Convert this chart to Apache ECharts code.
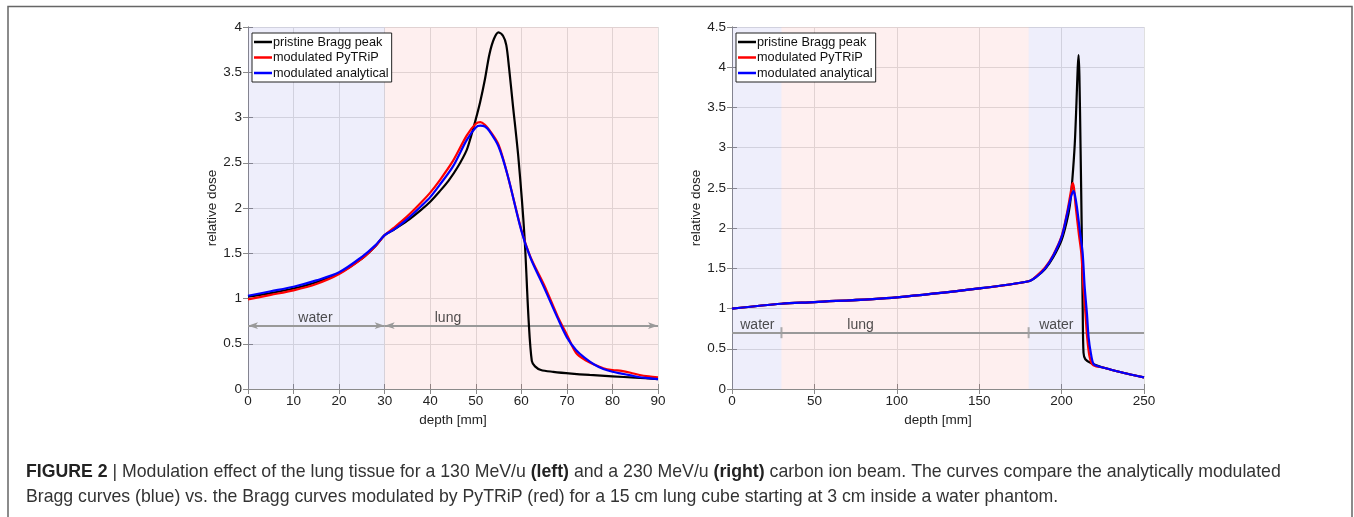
<!DOCTYPE html>
<html>
<head>
<meta charset="utf-8">
<script src="https://cdn.jsdelivr.net/npm/echarts@6/dist/echarts.min.js"></script>
<style>
  html, body { margin: 0; padding: 0; background: #fff; }
  #chart { width: 1354px; height: 517px; }
</style>
</head>
<body>
<div id="chart"></div>
<script>
// ---- data ----
const seriesNames = ["pristine Bragg peak", "modulated PyTRiP", "modulated analytical"];
const seriesColors = ["#000000", "#ff0000", "#0000ff"];

// left panel: 130 MeV/u
const leftPristineX = [0, 5, 10, 15, 20, 25, 28, 30, 32, 35, 38, 40, 42, 44, 46, 48, 49, 50, 51, 52, 53, 54, 55, 56, 56.7, 57.3, 58.1, 59.4, 60.7, 61.6, 62.3, 63, 64.3, 67, 71, 75, 80, 85, 90];
const leftPristineY = [1.02, 1.06, 1.11, 1.18, 1.28, 1.44, 1.58, 1.70, 1.76, 1.86, 1.98, 2.07, 2.18, 2.30, 2.45, 2.64, 2.80, 2.98, 3.18, 3.42, 3.70, 3.87, 3.94, 3.90, 3.80, 3.55, 3.16, 2.53, 1.68, 0.76, 0.31, 0.25, 0.21, 0.19, 0.17, 0.155, 0.14, 0.125, 0.11];
const leftPytripX = [0, 5, 10, 15, 20, 25, 28, 30, 32, 35, 38, 40, 42, 45, 48, 50, 51, 52, 53, 55, 57, 60, 62, 65, 68, 70, 72, 74, 76, 78, 80, 82, 84, 86, 88, 90];
const leftPytripY = [0.99, 1.04, 1.09, 1.16, 1.27, 1.44, 1.58, 1.70, 1.78, 1.91, 2.06, 2.17, 2.30, 2.52, 2.80, 2.93, 2.95, 2.92, 2.86, 2.70, 2.36, 1.76, 1.46, 1.15, 0.80, 0.60, 0.40, 0.32, 0.27, 0.23, 0.21, 0.20, 0.18, 0.155, 0.14, 0.13];
const leftAnalyticX = [0, 5, 10, 15, 20, 25, 28, 30, 32, 35, 38, 40, 42, 45, 48, 50, 51, 52, 53, 55, 57, 60, 62, 65, 68, 70, 72, 74, 76, 78, 80, 82, 84, 86, 88, 90];
const leftAnalyticY = [1.03, 1.08, 1.13, 1.20, 1.29, 1.46, 1.59, 1.70, 1.76, 1.88, 2.02, 2.12, 2.25, 2.46, 2.75, 2.89, 2.91, 2.90, 2.85, 2.68, 2.36, 1.75, 1.45, 1.12, 0.78, 0.57, 0.43, 0.34, 0.27, 0.22, 0.19, 0.17, 0.15, 0.13, 0.12, 0.11];

// right panel: 230 MeV/u
const rightPristineX = [0, 30, 50, 100, 150, 180, 185, 190, 195, 200, 203, 205, 206.5, 208, 209, 209.8, 210.3, 210.8, 211.5, 212.2, 212.8, 213.3, 214.4, 218, 224.5, 230, 240, 250];
const rightPristineY = [1.00, 1.06, 1.08, 1.14, 1.25, 1.34, 1.40, 1.49, 1.64, 1.85, 2.07, 2.28, 2.60, 3.05, 3.55, 4.00, 4.15, 3.90, 3.00, 2.00, 1.00, 0.45, 0.37, 0.32, 0.27, 0.24, 0.19, 0.145];
const rightPytripX = [0, 30, 50, 100, 150, 180, 185, 190, 195, 200, 203, 205, 206, 206.7, 207.5, 208.5, 210.5, 212, 213.2, 214.5, 215.5, 216.8, 218.5, 221, 224.5, 230, 240, 250];
const rightPytripY = [1.00, 1.06, 1.08, 1.14, 1.25, 1.34, 1.41, 1.51, 1.67, 1.90, 2.16, 2.38, 2.50, 2.56, 2.50, 2.28, 1.92, 1.68, 1.27, 0.93, 0.64, 0.42, 0.31, 0.28, 0.27, 0.24, 0.19, 0.145];
const rightAnalyticX = [0, 30, 50, 100, 150, 180, 185, 190, 195, 200, 203, 205, 206, 207.3, 208.2, 209.3, 211.3, 212.8, 214, 215.4, 216.4, 217.8, 219.4, 222.5, 224.5, 230, 240, 250];
const rightAnalyticY = [1.00, 1.06, 1.08, 1.14, 1.25, 1.34, 1.40, 1.50, 1.66, 1.89, 2.14, 2.33, 2.41, 2.46, 2.40, 2.26, 1.93, 1.68, 1.27, 0.93, 0.64, 0.44, 0.31, 0.28, 0.27, 0.24, 0.19, 0.145];

// tissue regions [from, to, kind] and annotation labels [depth, text]
const leftRegions = [[0, 30, "water"], [30, 90, "lung"]];
const rightRegions = [[0, 30, "water"], [30, 180, "lung"], [180, 250, "water"]];
const leftLabels = [[14.8, "water"], [43.9, "lung"]];
const rightLabels = [[15.4, "water"], [78, "lung"], [196.8, "water"]];
const annotY = 0.7;

// axes
const leftXMax = 90, leftXStep = 10, leftYMax = 4;
const rightXMax = 250, rightXStep = 50, rightYMax = 4.5;

const regionColor = { water: "rgba(70,70,215,0.09)", lung: "rgba(235,40,40,0.075)" };
const font = "'Liberation Sans', Arial, sans-serif";
const gray = "#8a8a8a";

function pairs(xs, ys) { return xs.map((x, i) => [x, ys[i]]); }

function axesFor(grid, xMax, xStep, yMax) {
  const tick = { show: true, inside: true, length: 5, lineStyle: { color: gray } };
  const line = { show: true, lineStyle: { color: gray, width: 1 } };
  const lab = { color: "#222", fontSize: 13.5, fontFamily: font };
  const x = [
    { type: "value", gridIndex: grid, min: 0, max: xMax, interval: xStep, axisLine: line, axisTick: tick,
      axisLabel: Object.assign({ margin: 5 }, lab),
      splitLine: { show: true, lineStyle: { color: "#e0e0e0" } },
      name: "depth [mm]", nameLocation: "middle", nameGap: 23,
      nameTextStyle: { color: "#222", fontSize: 13.5, fontFamily: font } },
    { type: "value", gridIndex: grid, position: "top", min: 0, max: xMax, interval: xStep,
      axisLine: line, axisTick: tick, axisLabel: { show: false }, splitLine: { show: false } }
  ];
  const y = [
    { type: "value", gridIndex: grid, min: 0, max: yMax, interval: 0.5, axisLine: line, axisTick: tick,
      axisLabel: Object.assign({ margin: 6 }, lab),
      splitLine: { show: true, lineStyle: { color: "#e0e0e0" } },
      name: "relative dose", nameLocation: "middle", nameGap: 27,
      nameTextStyle: { color: "#222", fontSize: 13.5, fontFamily: font } },
    { type: "value", gridIndex: grid, position: "right", min: 0, max: yMax, interval: 0.5,
      axisLine: line, axisTick: tick, axisLabel: { show: false }, splitLine: { show: false } }
  ];
  return { x, y };
}

function panelSeries(axisIdx, curves, regions, labels, arrows) {
  const out = [];
  // tissue backgrounds
  out.push({
    type: "line", xAxisIndex: axisIdx, yAxisIndex: axisIdx, data: [], silent: true, z: 1,
    markArea: {
      silent: true,
      data: regions.map(r => [{ xAxis: r[0], itemStyle: { color: regionColor[r[2]] } }, { xAxis: r[1] }])
    }
  });
  // annotation line
  const segs = regions.map(r => [{ coord: [r[0], annotY] }, { coord: [r[1], annotY] }]);
  out.push({
    type: "line", xAxisIndex: axisIdx, yAxisIndex: axisIdx, data: [], silent: true, z: 3,
    markLine: {
      silent: true, animation: false,
      symbol: arrows ? ["arrow", "arrow"] : ["none", "none"], symbolSize: [5, 10],
      label: { show: false },
      lineStyle: { color: "#999", width: 2, type: "solid" },
      data: segs
    }
  });
  if (!arrows) {
    // boundary ticks between regions
    out.push({
      type: "scatter", xAxisIndex: axisIdx, yAxisIndex: axisIdx, silent: true, z: 3,
      symbol: "rect", symbolSize: [2, 11], itemStyle: { color: "#999" },
      data: regions.slice(1).map(r => [r[0], annotY])
    });
  }
  // region labels
  out.push({
    type: "scatter", xAxisIndex: axisIdx, yAxisIndex: axisIdx, silent: true, z: 4, symbolSize: 0,
    label: { show: true, position: "top", distance: 1, formatter: p => p.name,
      color: "#222", fontSize: 14, fontFamily: font },
    data: labels.map(l => ({ name: l[1], value: [l[0], annotY] }))
  });
  curves.forEach((c, i) => {
    out.push({
      name: seriesNames[i], type: "line", xAxisIndex: axisIdx, yAxisIndex: axisIdx,
      data: c, showSymbol: false, smooth: 0.3, z: 5 + i,
      lineStyle: { color: seriesColors[i], width: 2.2 }, itemStyle: { color: seriesColors[i] }
    });
  });
  return out;
}

const la = axesFor(0, leftXMax, leftXStep, leftYMax);
const ra = axesFor(1, rightXMax, rightXStep, rightYMax);

const series = [].concat(
  panelSeries(0, [pairs(leftPristineX, leftPristineY), pairs(leftPytripX, leftPytripY), pairs(leftAnalyticX, leftAnalyticY)], leftRegions, leftLabels, true),
  panelSeries(2, [pairs(rightPristineX, rightPristineY), pairs(rightPytripX, rightPytripY), pairs(rightAnalyticX, rightAnalyticY)], rightRegions, rightLabels, false)
);

function legendAt(left) {
  return {
    data: seriesNames.map(n => ({ name: n, icon: "rect" })),
    orient: "vertical", left: left, top: 33,
    itemWidth: 18, itemHeight: 2.5, itemGap: 1.5,
    padding: [2, 3, 2, 2],
    backgroundColor: "#fff", borderColor: "#222", borderWidth: 1, borderRadius: 0,
    textStyle: { color: "#111", fontSize: 12.7, fontFamily: font, padding: [0, 0, 0, -4], lineHeight: 14 },
    selectedMode: false
  };
}

const chart = echarts.init(document.getElementById("chart"), null, { renderer: "canvas" });
chart.setOption({
  animation: false,
  backgroundColor: "#fff",
  title: [
    { left: 26, top: 463, padding: 0,
      text: "{b|FIGURE 2} | Modulation effect of the lung tissue for a 130 MeV/u {b|(left)} and a 230 MeV/u {b|(right)} carbon ion beam. The curves compare the analytically modulated",
      textStyle: { fontSize: 17.7, fontWeight: "normal", color: "#333", fontFamily: font,
        rich: { b: { fontSize: 17.7, fontWeight: "bold", color: "#222", fontFamily: font } } } },
    { left: 26, top: 488, padding: 0,
      text: "Bragg curves (blue) vs. the Bragg curves modulated by PyTRiP (red) for a 15 cm lung cube starting at 3 cm inside a water phantom.",
      textStyle: { fontSize: 17.7, fontWeight: "normal", color: "#333", fontFamily: font } }
  ],
  grid: [
    { left: 248, top: 27, width: 410, height: 362 },
    { left: 732, top: 27, width: 412, height: 362 }
  ],
  xAxis: la.x.concat(ra.x),
  yAxis: la.y.concat(ra.y),
  legend: [legendAt(252), legendAt(736)],
  graphic: [
    { type: "polyline", silent: true, z: 100,
      shape: { points: [[8, 517], [8, 6.5], [1352, 6.5], [1352, 517]] },
      style: { stroke: "#666", lineWidth: 1.5, fill: null } }
  ],
  series: series
});
</script>
</body>
</html>
